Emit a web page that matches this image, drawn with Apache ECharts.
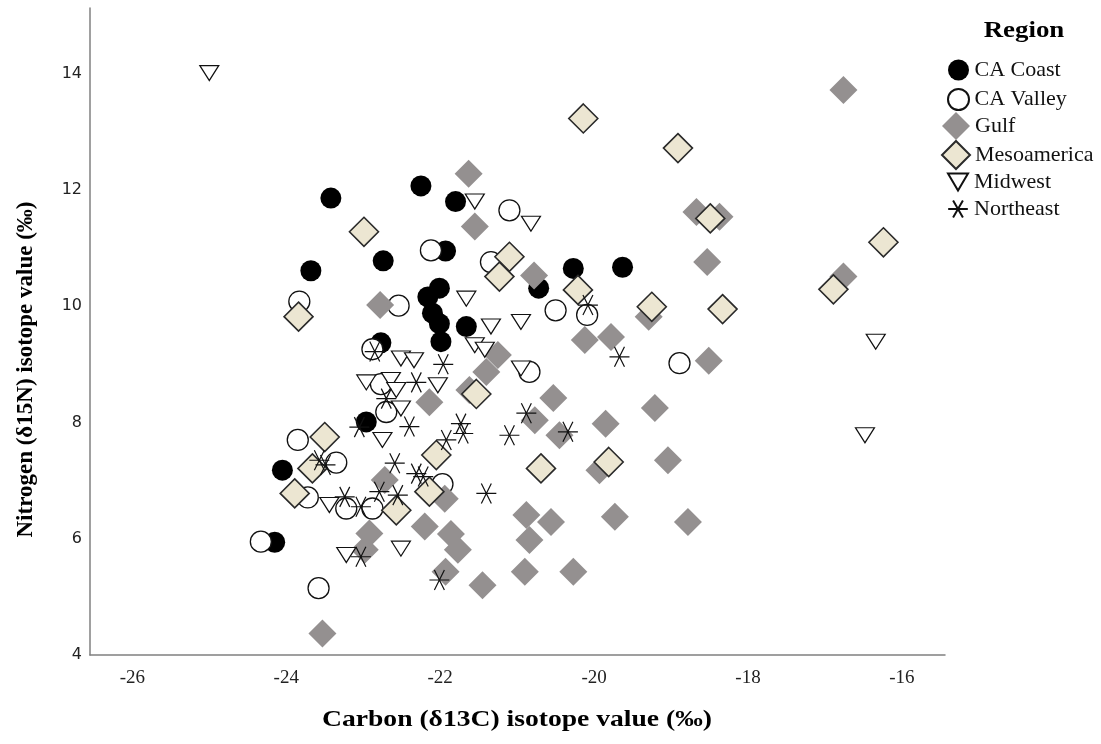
<!DOCTYPE html>
<html>
<head>
<meta charset="utf-8">
<script src="https://cdn.jsdelivr.net/npm/echarts@6/dist/echarts.min.js"></script>
<style>
html,body{margin:0;padding:0;background:#fff;}
#chart{width:1101px;height:744px;}
</style>
</head>
<body>
<div id="chart"></div>
<script>
// ---- Data (x = δ13C, y = δ15N) ----
const regions = ['CA Coast', 'CA Valley', 'Gulf', 'Mesoamerica', 'Midwest', 'Northeast'];
const xTicks = [-26, -24, -22, -20, -18, -16];
const yTicks = [4, 6, 8, 10, 12, 14];
const xTitle = 'Carbon (δ13C) isotope value (‰)';
const yTitle = 'Nitrogen (δ15N) isotope value (‰)';
const legendTitle = 'Region';

const caCoast = [
  [-23.42, 11.86], [-22.25, 12.07], [-21.80, 11.80], [-22.74, 10.78], [-23.68, 10.61],
  [-21.93, 10.95], [-22.01, 10.31], [-22.16, 10.16], [-22.10, 9.88], [-22.01, 9.70],
  [-21.99, 9.39], [-21.66, 9.65], [-22.77, 9.37], [-20.27, 10.65], [-19.63, 10.67],
  [-20.72, 10.31], [-22.96, 8.01], [-24.05, 7.18], [-24.15, 5.94]
];
const caValley = [
  [-23.83, 10.08], [-22.54, 10.01], [-22.12, 10.96], [-21.10, 11.65], [-21.34, 10.76],
  [-20.50, 9.93], [-20.09, 9.85], [-18.89, 9.02], [-20.84, 8.87], [-22.88, 9.26],
  [-22.77, 8.66], [-22.70, 8.18], [-23.85, 7.70], [-23.35, 7.31], [-21.97, 6.94],
  [-23.72, 6.71], [-23.22, 6.52], [-22.88, 6.52], [-24.33, 5.95], [-23.58, 5.15]
];
const gulf = [
  [-16.76, 13.72], [-21.63, 12.28], [-21.55, 11.37], [-22.78, 10.02], [-20.78, 10.53],
  [-18.67, 11.62], [-18.37, 11.54], [-18.53, 10.76], [-19.29, 9.82], [-16.76, 10.51],
  [-20.12, 9.42], [-19.78, 9.47], [-18.51, 9.06], [-21.25, 9.16], [-21.40, 8.87],
  [-21.62, 8.56], [-22.14, 8.35], [-20.53, 8.42], [-19.21, 8.25], [-19.85, 7.98],
  [-20.77, 8.04], [-20.45, 7.78], [-19.04, 7.35], [-19.93, 7.18], [-22.72, 7.01],
  [-21.94, 6.69], [-20.88, 6.41], [-20.56, 6.29], [-20.84, 5.98], [-19.73, 6.38],
  [-18.78, 6.29], [-22.20, 6.21], [-21.86, 6.08], [-21.77, 5.81], [-22.92, 6.09],
  [-22.98, 5.81], [-21.93, 5.43], [-21.45, 5.20], [-20.90, 5.43], [-20.27, 5.43],
  [-23.53, 4.37]
];
const mesoamerica = [
  [-20.14, 13.23], [-18.91, 12.72], [-22.99, 11.28], [-23.84, 9.82], [-21.10, 10.85],
  [-21.23, 10.51], [-20.21, 10.28], [-19.25, 9.99], [-18.33, 9.95], [-18.49, 11.51],
  [-16.24, 11.10], [-16.89, 10.29], [-21.53, 8.49], [-23.50, 7.75], [-22.05, 7.44],
  [-23.66, 7.21], [-23.89, 6.78], [-22.14, 6.81], [-22.57, 6.49], [-20.69, 7.21],
  [-19.81, 7.32]
];
const midwest = [
  [-25.00, 14.01], [-21.55, 11.80], [-20.82, 11.42], [-21.66, 10.13], [-21.34, 9.65],
  [-20.95, 9.73], [-21.55, 9.33], [-21.42, 9.25], [-20.95, 8.93], [-22.51, 9.10],
  [-22.34, 9.07], [-22.96, 8.69], [-22.64, 8.73], [-22.57, 8.56], [-22.03, 8.64],
  [-22.51, 8.24], [-22.75, 7.70], [-23.44, 6.58], [-23.22, 5.72], [-22.51, 5.83],
  [-16.34, 9.39], [-16.48, 7.78]
];
const northeast = [
  [-22.85, 9.22], [-21.96, 9.00], [-22.31, 8.69], [-22.70, 8.41], [-23.05, 7.92],
  [-22.40, 7.93], [-21.73, 7.98], [-21.70, 7.81], [-21.92, 7.70], [-23.57, 7.35],
  [-23.49, 7.27], [-22.59, 7.30], [-22.31, 7.12], [-22.22, 7.07], [-22.79, 6.81],
  [-22.55, 6.75], [-23.24, 6.72], [-23.03, 6.55], [-23.03, 5.69], [-22.01, 5.29],
  [-21.40, 6.78], [-21.10, 7.78], [-20.88, 8.16], [-20.34, 7.84], [-20.08, 10.02],
  [-19.67, 9.13]
];

const serif = "'Liberation Serif', 'Times New Roman', serif";
const asterisk = 'path://M-10,0 L10,0 M-5,-8.66 L5,8.66 M5,-8.66 L-5,8.66';
const triDown = 'path://M0,0 L20,0 L10,17 Z';
const legendText = { fontFamily: serif, fontSize: 22, color: '#111' };

const chart = echarts.init(document.getElementById('chart'));
chart.setOption({
  animation: false,
  backgroundColor: '#ffffff',
  graphic: [
    {
      type: 'text', x: 1024, y: 31, scaleX: 1.12,
      style: { text: legendTitle, fontFamily: serif, fontWeight: 'bold', fontSize: 24,
               fill: '#000', align: 'center', verticalAlign: 'middle' }
    },
    {
      type: 'text', x: 517, y: 720, scaleX: 1.2,
      style: { text: xTitle, fontFamily: serif, fontWeight: 'bold', fontSize: 23,
               fill: '#000', align: 'center', verticalAlign: 'middle' }
    }
  ],
  legend: [
    {
      orient: 'vertical', left: 942, top: 54, itemWidth: 22, itemHeight: 21, itemGap: 7,
      data: ['CA Coast', 'CA Valley'], textStyle: legendText
    },
    {
      orient: 'vertical', left: 936, top: 107, itemWidth: 28, itemHeight: 28, itemGap: 0,
      data: ['Gulf', 'Mesoamerica'], textStyle: legendText
    },
    {
      orient: 'vertical', left: 942, top: 166, itemWidth: 22, itemHeight: 17, itemGap: 5,
      data: [{ name: 'Midwest', icon: triDown }, 'Northeast'], textStyle: legendText
    }
  ],
  grid: { left: 90, right: 156, top: 8, bottom: 89, containLabel: false },
  xAxis: {
    type: 'value',
    min: -26.55,
    max: -15.44,
    axisLine: { lineStyle: { color: '#808080', width: 1.5 } },
    axisTick: { show: false },
    splitLine: { show: false },
    axisLabel: {
      customValues: xTicks,
      margin: 14,
      fontFamily: serif,
      fontSize: 19,
      color: '#222'
    }
  },
  yAxis: {
    type: 'value',
    min: 4,
    max: 15.13,
    name: yTitle,
    nameLocation: 'middle',
    nameRotate: 90,
    nameGap: 52,
    nameTextStyle: { fontFamily: serif, fontWeight: 'bold', fontSize: 23, color: '#000',
                     padding: [0, 76, 0, 0] },
    axisLine: { lineStyle: { color: '#808080', width: 1.5 } },
    axisTick: { show: false },
    splitLine: { show: false },
    axisLabel: {
      customValues: yTicks,
      margin: 8,
      fontFamily: "'DejaVu Sans', sans-serif",
      fontSize: 16,
      color: '#222'
    }
  },
  series: [
    {
      name: 'CA Coast', type: 'scatter', data: caCoast,
      symbol: 'circle', symbolSize: 21,
      itemStyle: { color: '#000000', opacity: 1 }
    },
    {
      name: 'CA Valley', type: 'scatter', data: caValley,
      symbol: 'circle', symbolSize: 21,
      itemStyle: { color: '#ffffff', borderColor: '#111', borderWidth: 1.3, opacity: 1 }
    },
    {
      name: 'Gulf', type: 'scatter', data: gulf,
      symbol: 'diamond', symbolSize: 28,
      itemStyle: { color: '#949090', opacity: 1 }
    },
    {
      name: 'Mesoamerica', type: 'scatter', data: mesoamerica,
      symbol: 'diamond', symbolSize: 29,
      itemStyle: { color: '#ece6d2', borderColor: '#2a2a2a', borderWidth: 1.6, opacity: 1 }
    },
    {
      name: 'Midwest', type: 'scatter', data: midwest,
      symbol: 'triangle', symbolRotate: 180, symbolSize: [19, 15],
      itemStyle: { color: '#ffffff', borderColor: '#111', borderWidth: 1.2, opacity: 1 }
    },
    {
      name: 'Northeast', type: 'scatter', data: northeast,
      symbol: asterisk, symbolSize: 20,
      itemStyle: { color: 'rgba(0,0,0,0)', borderColor: '#111', borderWidth: 1.2, opacity: 1 }
    }
  ]
});
</script>
</body>
</html>
